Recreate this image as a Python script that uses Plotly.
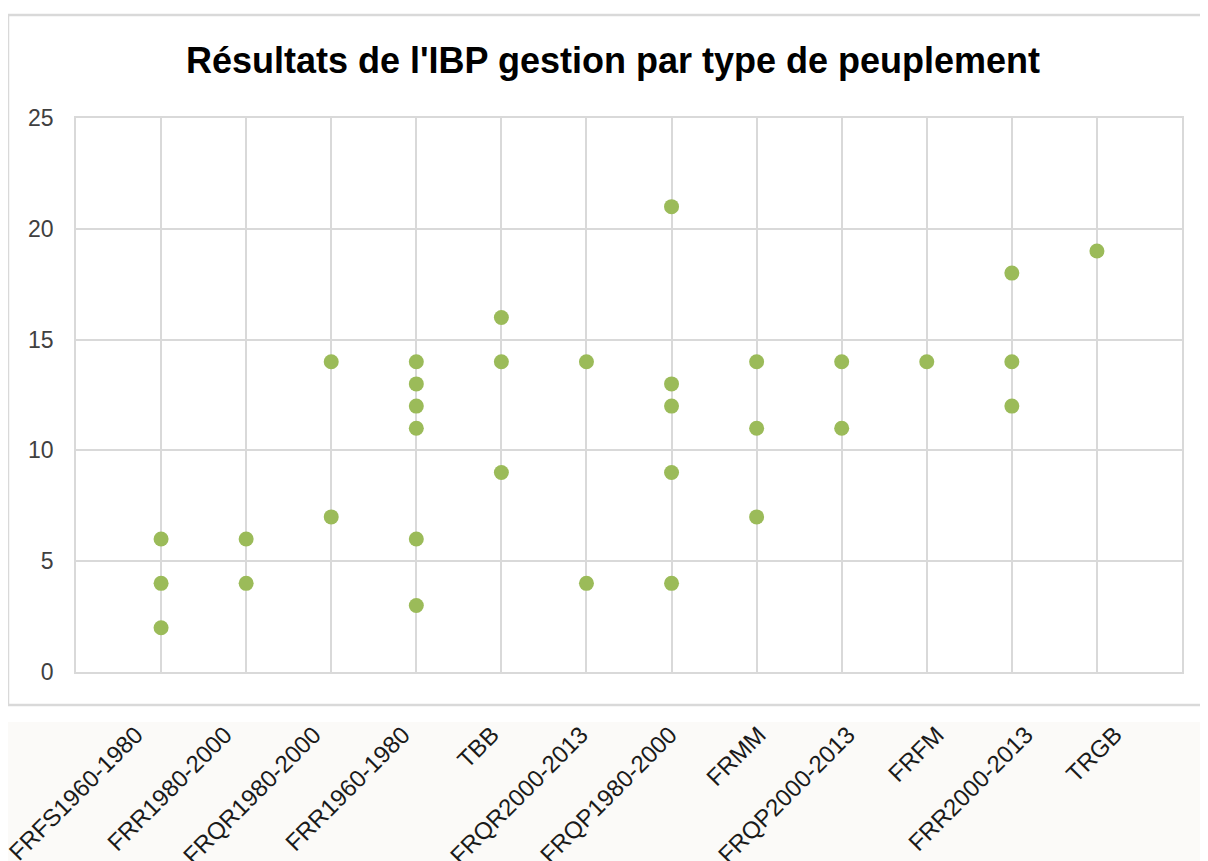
import plotly.graph_objects as go

categories = ["FRFS1960-1980", "FRR1980-2000", "FRQR1980-2000", "FRR1960-1980", "TBB",
              "FRQR2000-2013", "FRQP1980-2000", "FRMM", "FRQP2000-2013", "FRFM",
              "FRR2000-2013", "TRGB"]

pt_category = (["FRFS1960-1980"] * 3 + ["FRR1980-2000"] * 2 + ["FRQR1980-2000"] * 2 +
               ["FRR1960-1980"] * 6 + ["TBB"] * 3 + ["FRQR2000-2013"] * 2 +
               ["FRQP1980-2000"] * 5 + ["FRMM"] * 3 + ["FRQP2000-2013"] * 2 +
               ["FRFM"] * 1 + ["FRR2000-2013"] * 3 + ["TRGB"] * 1)
pt_value = [6, 4, 2,
            6, 4,
            14, 7,
            14, 13, 12, 11, 6, 3,
            16, 14, 9,
            14, 4,
            21, 13, 12, 9, 4,
            14, 11, 7,
            14, 11,
            14,
            18, 14, 12,
            19]

y_ticks = [0, 5, 10, 15, 20, 25]
title_text = "Résultats de l'IBP gestion par type de peuplement"

W, H = 1208, 861
OFF = 8  # page body margin shifts the figure by 8 px
L, R, T, B = 76 - OFF, 1182 - OFF, 118 - OFF, 672 - OFF
pw = R - L
paper_h = H - T  # bottom margin is 0

def px(x):
    return (x - OFF - L) / pw

def py(y):
    return (H - (y - OFF)) / paper_h

fig = go.Figure()
fig.add_trace(go.Scatter(x=pt_category, y=pt_value, mode="markers",
                         marker=dict(color="#9BBB59", size=15, line=dict(width=0)),
                         showlegend=False, hoverinfo="x+y"))
# invisible trace carrying the label axis
fig.add_trace(go.Scatter(x=categories, y=[None] * len(categories), xaxis="x2",
                         mode="markers", showlegend=False, hoverinfo="skip"))

grid = "#D9D9D9"
# label axis: label ends at 143 px + 89 px steps (screen); plotly offsets label end by ~7 px
lab0, labstep = 143 - OFF - 7, 89.0
r0 = -(lab0 - L) / labstep
r1 = r0 + pw / labstep

fig.update_layout(
    width=W, height=H,
    margin=dict(l=L, r=W - R, t=T, b=0, pad=0, autoexpand=False),
    paper_bgcolor="white", plot_bgcolor="white",
    font=dict(family="Liberation Sans, Arial, sans-serif", color="#404040"),
    title=dict(text="<b>" + title_text + "</b>", x=(613 - OFF) / W, xanchor="center",
               xref="container", y=1 - (60 - OFF) / H, yanchor="middle",
               font=dict(size=36, color="#000000", family="Liberation Sans, Arial, sans-serif")),
    xaxis=dict(type="category", categoryorder="array", categoryarray=categories,
               range=[-1, 12], showgrid=True, gridcolor=grid, gridwidth=1.5,
               showline=True, linecolor=grid, linewidth=1.5, mirror=True,
               showticklabels=False, ticks="", zeroline=False, automargin=False),
    xaxis2=dict(type="category", categoryorder="array", categoryarray=categories,
                range=[r0, r1], overlaying="x", side="bottom", anchor="free",
                position=py(715), showgrid=False, showline=False, ticks="",
                tickangle=-45, tickfont=dict(size=24, color="#1a1a1a"),
                zeroline=False, automargin=False),
    yaxis=dict(domain=[(H - B) / paper_h, 1], range=[0, 25], tickvals=y_ticks, showgrid=True,
               gridcolor=grid, gridwidth=1.5, showline=True, linecolor=grid,
               linewidth=1.5, mirror=True, zeroline=False, ticks="",
               tickfont=dict(size=23, color="#404040"), ticklabelstandoff=16,
               automargin=False),
    shapes=[
        dict(type="rect", xref="paper", yref="paper", layer="below",
             x0=px(8), x1=px(1230), y0=py(722), y1=py(880),
             fillcolor="#FBFAF8", line=dict(width=0)),
        dict(type="rect", xref="paper", yref="paper", layer="below",
             x0=px(8), x1=px(1230), y0=py(705), y1=py(15),
             fillcolor="rgba(0,0,0,0)", line=dict(color="#D9D9D9", width=2.5)),
    ],
)

fig.write_html("out.html")
